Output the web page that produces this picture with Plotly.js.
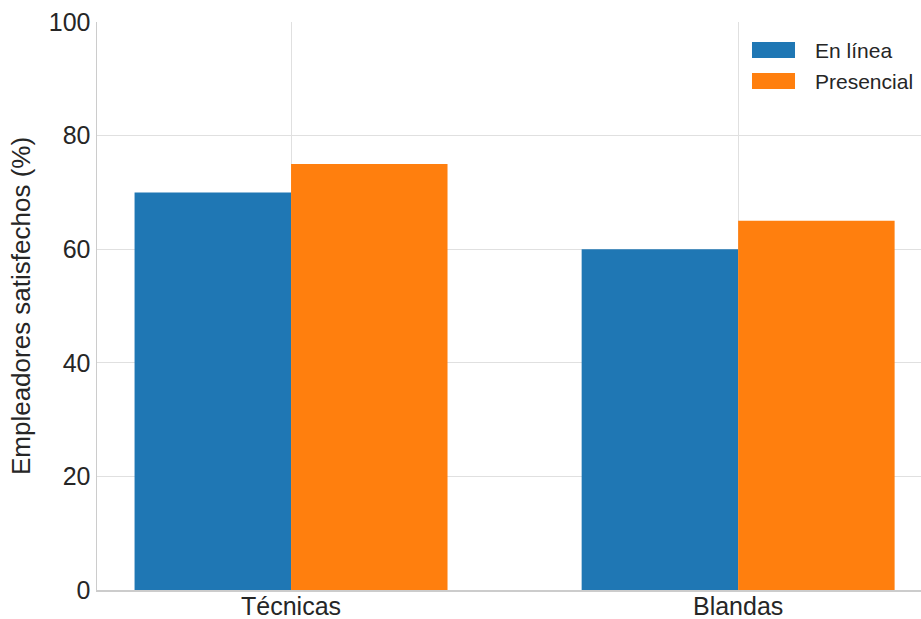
<!DOCTYPE html>
<html>
<head>
<meta charset="utf-8">
<script src="https://cdn.plot.ly/plotly-3.0.1.min.js"></script>
<style>html,body{margin:0;padding:0;background:#fff;}#chart{width:921px;height:619px;}</style>
</head>
<body>
<div id="chart"></div>
<script>
const categories = ["Técnicas", "Blandas"];
const seriesNames = ["En línea", "Presencial"];
const enLinea = [70, 60];
const presencial = [75, 65];
const colors = ["#1f77b4", "#ff7f0e"];
const yTicks = [0, 20, 40, 60, 80, 100];

const traces = [
  {type: "bar", name: seriesNames[0], x: categories, y: enLinea, marker: {color: colors[0], line: {width: 0}}},
  {type: "bar", name: seriesNames[1], x: categories, y: presencial, marker: {color: colors[1], line: {width: 0}}}
];

// custom legend with wide swatches (matplotlib style)
const legendShapes = [];
const legendAnnots = [];
const swTop = [0.9648, 0.9102];
const swH = 0.0282;
seriesNames.forEach((name, i) => {
  legendShapes.push({type: "rect", xref: "paper", yref: "paper", x0: 0.7949, x1: 0.8471,
    y0: swTop[i] - swH, y1: swTop[i], fillcolor: colors[i], line: {width: 0}});
  legendAnnots.push({xref: "paper", yref: "paper", x: 0.8689, y: swTop[i] - swH / 2,
    xanchor: "left", yanchor: "middle", text: name, showarrow: false,
    font: {size: 21, color: "#262626"}});
});

const layout = {
  width: 921, height: 619,
  margin: {l: 97, r: 0, t: 22, b: 29, pad: 0},
  paper_bgcolor: "#ffffff", plot_bgcolor: "#ffffff",
  font: {family: "Liberation Sans, Arial, sans-serif", size: 25, color: "#262626"},
  barmode: "group", bargap: 0.3, bargroupgap: 0,
  showlegend: false,
  shapes: legendShapes,
  annotations: legendAnnots,
  xaxis: {range: [-0.434, 1.409], showgrid: true, gridcolor: "#e0e0e0", gridwidth: 1,
          showline: true, linecolor: "#cccccc", linewidth: 1.5, ticks: "", tickfont: {size: 25},
          ticklabelstandoff: -7, zeroline: false},
  yaxis: {range: [0, 100], tickvals: yTicks, ticktext: yTicks.map(String), showgrid: true,
          gridcolor: "#e0e0e0", gridwidth: 1, showline: true, linecolor: "#cccccc", linewidth: 1.5,
          ticks: "", ticklen: 0, tickfont: {size: 25}, zeroline: false,
          title: {text: "Empleadores satisfechos (%)", font: {size: 26}, standoff: 10}}
};

Plotly.newPlot("chart", traces, layout, {displayModeBar: false, staticPlot: true});
</script>
</body>
</html>
